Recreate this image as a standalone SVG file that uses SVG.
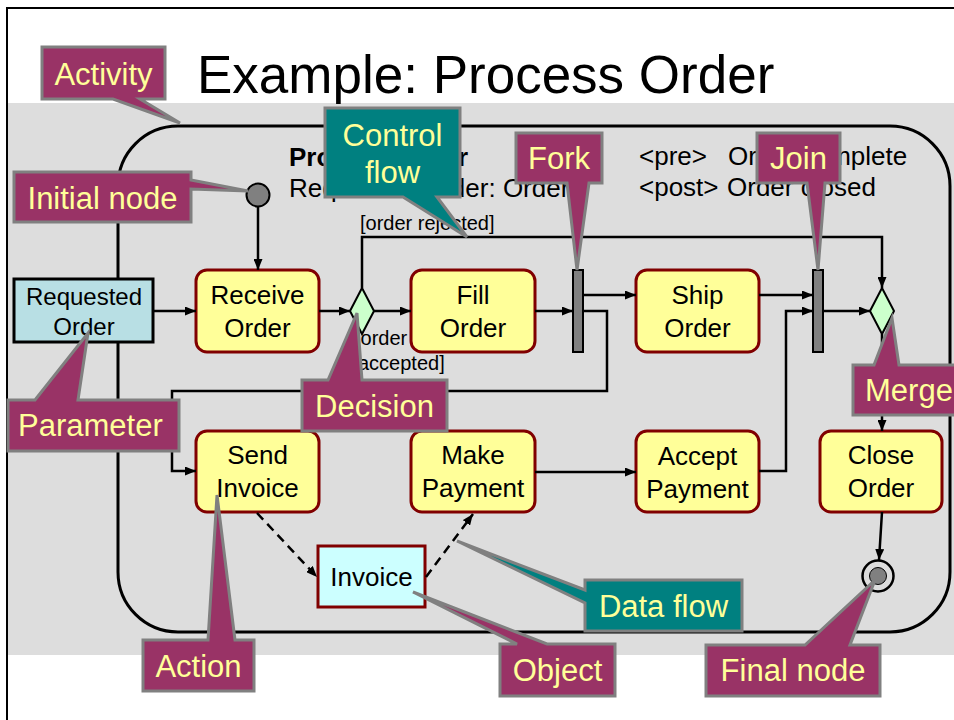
<svg xmlns="http://www.w3.org/2000/svg" width="954" height="720" viewBox="0 0 954 720">
  <defs>
    <marker id="arrow" markerUnits="userSpaceOnUse" markerWidth="11" markerHeight="9" refX="11" refY="4.5" orient="auto">
      <path d="M0,0 L11,4.5 L0,9 z" fill="#000"/>
    </marker>
    <style>
      .frame { fill: none; stroke: #000; stroke-width: 2; }
      .activity { fill: none; stroke: #000; stroke-width: 3; }
      .action { fill: #ffff99; stroke: #800000; stroke-width: 3; }
      .param { fill: #b8dfe4; stroke: #000; stroke-width: 3; }
      .object { fill: #ccffff; stroke: #800000; stroke-width: 3; }
      .diamond { fill: #ccffcc; stroke: #000; stroke-width: 2; }
      .bar { fill: #808080; stroke: #000; stroke-width: 2; }
      .flow { fill: none; stroke: #000; stroke-width: 2.5; marker-end: url(#arrow); }
      .data { stroke-dasharray: 9,6; }
      .txt { font-family: "Liberation Sans", Arial, sans-serif; font-size: 26px; fill: #000; }
      .mid { text-anchor: middle; }
      .guard { font-size: 20px; }
      .bold { font-weight: bold; }
      .title { font-family: "Liberation Sans", Arial, sans-serif; font-size: 53px; fill: #000; }
      .note-m { fill: #993366; stroke: #808080; stroke-width: 3; stroke-linejoin: miter; }
      .note-t { fill: #008080; stroke: #808080; stroke-width: 3; stroke-linejoin: miter; }
      .note-txt { font-family: "Liberation Sans", Arial, sans-serif; font-size: 31px; fill: #ffff99; }
    </style>
  </defs>

  <!-- page -->
  <rect x="0" y="0" width="954" height="720" fill="#fff"/>
  <rect x="8" y="103" width="946" height="552" fill="#dddddd"/>
  <path class="frame" d="M7,720 V8 H954"/>
  <text class="title" x="197" y="93">Example: Process Order</text>

  <!-- activity frame -->
  <g id="activity">
    <rect class="activity" x="118" y="126" width="832" height="506" rx="60" ry="60"/>
    <text class="txt bold" x="289" y="166">Process Order</text>
    <text class="txt" x="289" y="197">Requested Order: Order</text>
    <text class="txt" x="639" y="165">&lt;pre&gt;</text>
    <text class="txt" x="728" y="165">Order complete</text>
    <text class="txt" x="639" y="196">&lt;post&gt;</text>
    <text class="txt" x="727" y="196">Order closed</text>
  </g>

  <!-- nodes -->
  <g id="initial">
    <circle cx="258" cy="195" r="11.5" fill="#808080" stroke="#000" stroke-width="2"/>
  </g>
  <g id="requested-order">
    <rect class="param" x="14" y="279" width="139" height="63"/>
    <text class="txt mid" x="84" y="305" style="font-size:24px">Requested</text>
    <text class="txt mid" x="84" y="335" style="font-size:24px">Order</text>
  </g>
  <g id="receive-order">
    <rect class="action" x="196" y="270" width="123" height="82" rx="11"/>
    <text class="txt mid" x="257.5" y="304">Receive</text>
    <text class="txt mid" x="257.5" y="337">Order</text>
  </g>
  <g id="decision">
    <polygon class="diamond" points="362,288 374,311 362,334 350,311"/>
  </g>
  <g id="guards">
    <text class="txt guard" x="360" y="230">[order rejected]</text>
    <text class="txt guard" x="355" y="345">[order</text>
    <text class="txt guard" x="358" y="370">accepted]</text>
  </g>
  <g id="fill-order">
    <rect class="action" x="411" y="270" width="124" height="82" rx="11"/>
    <text class="txt mid" x="473" y="304">Fill</text>
    <text class="txt mid" x="473" y="337">Order</text>
  </g>
  <g id="fork">
    <rect class="bar" x="573" y="270" width="10" height="82"/>
  </g>
  <g id="ship-order">
    <rect class="action" x="636" y="270" width="123" height="82" rx="11"/>
    <text class="txt mid" x="697.5" y="304">Ship</text>
    <text class="txt mid" x="697.5" y="337">Order</text>
  </g>
  <g id="join">
    <rect class="bar" x="813" y="270" width="10" height="82"/>
  </g>
  <g id="merge">
    <polygon class="diamond" points="882,288 894,311 882,334 870,311"/>
  </g>
  <g id="send-invoice">
    <rect class="action" x="196" y="431" width="123" height="81" rx="11"/>
    <text class="txt mid" x="257.5" y="464">Send</text>
    <text class="txt mid" x="257.5" y="497">Invoice</text>
  </g>
  <g id="make-payment">
    <rect class="action" x="411" y="431" width="124" height="81" rx="11"/>
    <text class="txt mid" x="473" y="464">Make</text>
    <text class="txt mid" x="473" y="497">Payment</text>
  </g>
  <g id="accept-payment">
    <rect class="action" x="636" y="431" width="123" height="81" rx="11"/>
    <text class="txt mid" x="697.5" y="465">Accept</text>
    <text class="txt mid" x="697.5" y="498">Payment</text>
  </g>
  <g id="close-order">
    <rect class="action" x="820" y="431" width="122" height="81" rx="11"/>
    <text class="txt mid" x="881" y="464">Close</text>
    <text class="txt mid" x="881" y="497">Order</text>
  </g>
  <g id="invoice">
    <rect class="object" x="318" y="546" width="107" height="61"/>
    <text class="txt mid" x="371.5" y="586">Invoice</text>
  </g>
  <g id="final">
    <circle cx="878" cy="576" r="15.5" fill="none" stroke="#000" stroke-width="2.5"/>
    <circle cx="878" cy="576" r="8.5" fill="#808080" stroke="#000" stroke-width="1"/>
  </g>

  <!-- connectors -->
  <g id="connectors">
    <path class="flow" d="M258,207 V270"/>
    <path class="flow" d="M153,311 H196"/>
    <path class="flow" d="M319,311 H350"/>
    <path class="flow" d="M374,311 H411"/>
    <path class="flow" d="M362,288 V237 H882 V288"/>
    <path class="flow" d="M535,311 H573"/>
    <path class="flow" d="M583,295 H636"/>
    <path class="flow" d="M583,311 H607 V391 H172 V471 H196"/>
    <path class="flow" d="M759,295 H813"/>
    <path class="flow" d="M535,472 H636"/>
    <path class="flow" d="M759,471 H786 V311 H813"/>
    <path class="flow" d="M823,311 H870"/>
    <path class="flow" d="M882,334 V431"/>
    <path class="flow" d="M882,512 L879,560"/>
    <path class="flow data" d="M257,513 L317,577"/>
    <path class="flow data" d="M426,577 L473,514"/>
  </g>

  <!-- callouts -->
  <g id="callout-activity">
    <path class="note-m" d="M42,47 H165 V99 H140 L180,123 L113,99 H42 Z"/>
    <text class="note-txt mid" x="103.5" y="85">Activity</text>
  </g>
  <g id="callout-initial">
    <path class="note-m" d="M14,172 H191 V180 L248,191 L191,189 V222 H14 Z"/>
    <text class="note-txt mid" x="102.5" y="209">Initial node</text>
  </g>
  <g id="callout-control-flow">
    <path class="note-t" d="M325,108 H460 V197 H437 L467,237 L403,197 H325 Z"/>
    <text class="note-txt mid" x="392.5" y="146">Control</text>
    <text class="note-txt mid" x="392.5" y="183">flow</text>
  </g>
  <g id="callout-fork">
    <path class="note-m" d="M516,133 H602 V183 H589 L577,270 L567,183 H516 Z"/>
    <text class="note-txt mid" x="559" y="169">Fork</text>
  </g>
  <g id="callout-join">
    <path class="note-m" d="M757,133 H840 V183 H825 L818,270 L807,183 H757 Z"/>
    <text class="note-txt mid" x="798.5" y="169">Join</text>
  </g>
  <g id="callout-parameter">
    <path class="note-m" d="M8,400 H35 L88,333 L78,400 H179 V451 H8 Z"/>
    <text class="note-txt" x="18" y="436">Parameter</text>
  </g>
  <g id="callout-decision">
    <path class="note-m" d="M302,380 H328 L357,313 L362,380 H447 V431 H302 Z"/>
    <text class="note-txt mid" x="374.5" y="417">Decision</text>
  </g>
  <g id="callout-merge">
    <path class="note-m" d="M853,365 H874 L892,318 L899,365 H960 V415 H853 Z"/>
    <text class="note-txt" x="865" y="401">Merge</text>
  </g>
  <g id="callout-action">
    <path class="note-m" d="M143,640 H208 L217,495 L235,640 H254 V691 H143 Z"/>
    <text class="note-txt mid" x="198.5" y="677">Action</text>
  </g>
  <g id="callout-object">
    <path class="note-m" d="M500,644 H517 L413,592 L547,644 H615 V696 H500 Z"/>
    <text class="note-txt mid" x="557.5" y="681">Object</text>
  </g>
  <g id="callout-data-flow">
    <path class="note-t" d="M585,580 H742 V631 H585 V603 L457,541 L585,590 Z"/>
    <text class="note-txt mid" x="663.5" y="617">Data flow</text>
  </g>
  <g id="callout-final">
    <path class="note-m" d="M706,645 H805 L875,580 L850,645 H880 V696 H706 Z"/>
    <text class="note-txt mid" x="793" y="681">Final node</text>
  </g>
</svg>
